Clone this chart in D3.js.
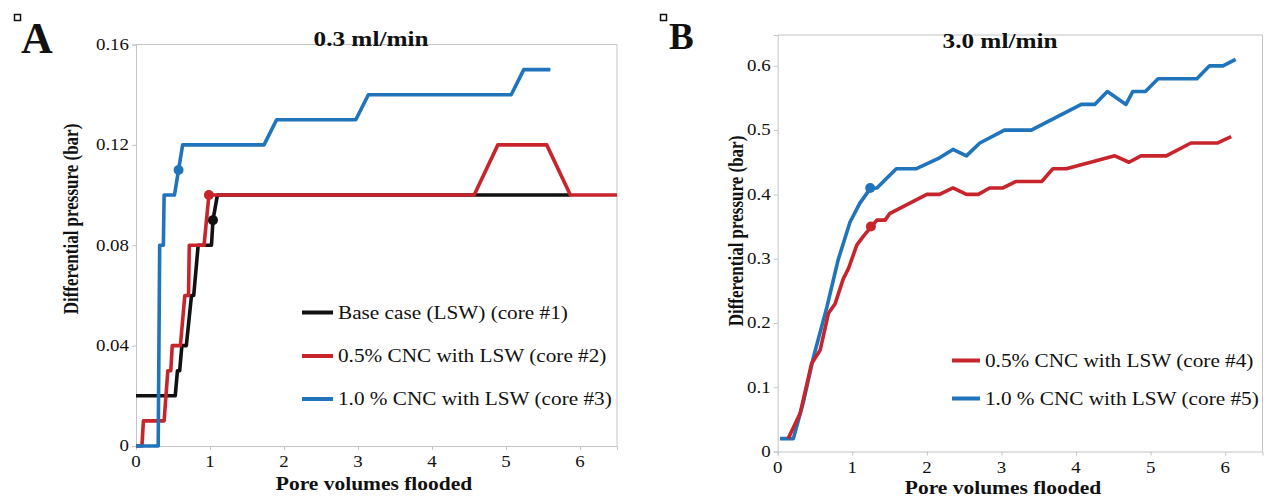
<!DOCTYPE html>
<html>
<head>
<meta charset="utf-8">
<script src="https://cdn.jsdelivr.net/npm/d3@7"></script>
<style>
  body { margin: 0; background: #fff; }
  svg text { font-family: "Liberation Serif", "Times New Roman", serif; fill: #111; }
</style>
</head>
<body>
<div id="chart"></div>
<script>
// panel A - 0.3 ml/min
const aCore1X = [0, 0.53, 0.56, 0.59, 0.62, 0.68, 0.75, 0.78, 0.84, 1.02, 1.04, 1.1, 5.87];
const aCore1Y = [0.02, 0.02, 0.03, 0.03, 0.04, 0.04, 0.06, 0.06, 0.08, 0.08, 0.09, 0.10, 0.10];
const aCore2X = [0, 0.08, 0.1, 0.38, 0.43, 0.47, 0.49, 0.6, 0.66, 0.71, 0.72, 0.92, 0.985, 4.57, 4.89, 5.55, 5.87, 6.5];
const aCore2Y = [0, 0, 0.01, 0.01, 0.03, 0.03, 0.04, 0.04, 0.06, 0.06, 0.08, 0.08, 0.10, 0.10, 0.12, 0.12, 0.10, 0.10];
const aCore3X = [0, 0.3, 0.32, 0.37, 0.38, 0.52, 0.575, 0.63, 1.73, 1.9, 2.97, 3.14, 5.07, 5.24, 5.6];
const aCore3Y = [0, 0, 0.08, 0.08, 0.10, 0.10, 0.11, 0.12, 0.12, 0.13, 0.13, 0.14, 0.14, 0.15, 0.15];
const aMarkX = [1.04, 0.985, 0.575];
const aMarkY = [0.09, 0.10, 0.11];
const aLabels = ["Base case (LSW) (core #1)", "0.5% CNC with LSW (core #2)", "1.0 % CNC with LSW (core #3)"];
const aYTicks = [0, 0.04, 0.08, 0.12, 0.16];

// panel B - 3.0 ml/min
const bCore4X = [0.14, 0.30, 0.455, 0.57, 0.68, 0.77, 0.88, 0.95, 1.06, 1.15, 1.25, 1.33, 1.44, 1.50, 2.0, 2.17, 2.35, 2.53, 2.69, 2.84, 3.02, 3.19, 3.54, 3.69, 3.87, 4.52, 4.71, 4.87, 5.21, 5.54, 5.90, 6.08];
const bCore4Y = [0.02, 0.059, 0.137, 0.158, 0.215, 0.23, 0.269, 0.285, 0.321, 0.335, 0.349, 0.36, 0.36, 0.37, 0.40, 0.40, 0.41, 0.40, 0.40, 0.41, 0.41, 0.42, 0.42, 0.44, 0.44, 0.46, 0.45, 0.46, 0.46, 0.48, 0.48, 0.49];
const bCore5X = [0.03, 0.21, 0.34, 0.48, 0.66, 0.81, 0.97, 1.10, 1.24, 1.33, 1.59, 1.86, 2.17, 2.35, 2.53, 2.71, 3.04, 3.40, 4.07, 4.25, 4.42, 4.67, 4.76, 4.93, 5.10, 5.62, 5.79, 5.97, 6.14];
const bCore5Y = [0.02, 0.02, 0.075, 0.147, 0.225, 0.298, 0.357, 0.386, 0.409, 0.41, 0.44, 0.44, 0.457, 0.47, 0.46, 0.48, 0.50, 0.50, 0.54, 0.54, 0.56, 0.54, 0.56, 0.56, 0.58, 0.58, 0.60, 0.60, 0.61];
const bMarkX = [1.25, 1.24];
const bMarkY = [0.35, 0.41];
const bLabels = ["0.5% CNC with LSW (core #4)", "1.0 % CNC with LSW (core #5)"];
const bYTicks = [0, 0.1, 0.2, 0.3, 0.4, 0.5, 0.6];

const xTicks = [0, 1, 2, 3, 4, 5, 6];

const BLACK = "#111111", RED = "#c8242c", BLUE = "#1f74bb", GRID = "#c4c4c4";
const STRETCH = 1.18; // the reference text is a bit wider than the font

const svg = d3.select("#chart").append("svg")
    .attr("width", 1270).attr("height", 498);

function label(g, x, y, str, size, opts) {
    opts = opts || {};
    let tf = `translate(${x},${y}) scale(${STRETCH},1)`;
    if (opts.rotate) tf += " rotate(-90)";
    return g.append("text")
        .attr("transform", tf)
        .attr("text-anchor", opts.anchor || "start")
        .attr("dy", opts.dy || 0)
        .style("font-size", size + "px")
        .style("font-weight", opts.bold ? "bold" : "normal")
        .text(str);
}

function zip(xs, ys) { return xs.map((x, i) => [x, ys[i]]); }

function panel(p) {
    const g = svg.append("g");
    const x = d3.scaleLinear().domain([0, 6.5]).range([p.left, p.right]);
    const y = d3.scaleLinear().domain([0, p.ymax]).range([p.bottom, p.top]);

    // frame
    g.append("path")
        .attr("d", `M${p.left},${p.top}H${p.right}V${p.bottom}`)
        .attr("fill", "none").attr("stroke", GRID).attr("stroke-width", 1);

    const xAxis = g.append("g").attr("transform", `translate(0,${p.bottom})`)
        .call(d3.axisBottom(x).tickValues(xTicks).tickSize(4).tickFormat(d3.format("d")));
    const yAxis = g.append("g").attr("transform", `translate(${p.left},0)`)
        .call(d3.axisLeft(y).tickValues(p.yTicks).tickSize(4)
            .tickFormat(d => d === 0 ? "0" : d3.format(p.fmt)(d)));
    [xAxis, yAxis].forEach(a => {
        a.select(".domain").attr("stroke", GRID);
        a.selectAll(".tick line").attr("stroke", GRID);
        a.selectAll(".tick text").remove();
    });
    xTicks.forEach(t => label(g, x(t), p.bottom + 21, t, 16, { anchor: "middle" }));
    p.yTicks.forEach(t => label(g, p.left - 7, y(t), t === 0 ? "0" : d3.format(p.fmt)(t), 16, { anchor: "end", dy: "0.33em" }));

    const line = d3.line().x(d => x(d[0])).y(d => y(d[1]));
    p.series.forEach(s => {
        g.append("path").datum(zip(s.xs, s.ys))
            .attr("d", line)
            .attr("fill", "none").attr("stroke", s.color)
            .attr("stroke-width", 3.6).attr("stroke-linejoin", "round");
    });
    g.selectAll(".mark").data(p.marks).enter().append("circle")
        .attr("cx", d => x(d.x)).attr("cy", d => y(d.y)).attr("r", 5)
        .attr("fill", d => d.color);

    // legend
    p.legend.forEach((l, i) => {
        const ly = p.legY[i];
        g.append("line").attr("x1", p.legX).attr("x2", p.legX + p.legLen)
            .attr("y1", ly).attr("y2", ly)
            .attr("stroke", l.color).attr("stroke-width", 4);
        label(g, p.legX + p.legLen + 5, ly, l.text, 18, { dy: "0.34em" });
    });

    label(g, p.titleX, p.titleY, p.title, 21.4, { anchor: "middle", bold: true });
    label(g, p.xTitleX, p.xTitleY, "Pore volumes flooded", 18.2, { anchor: "middle", bold: true });
    label(g, p.yTitleX, p.yTitleY, "Differential pressure (bar)", 17, { anchor: "middle", bold: true, rotate: true });

    g.append("rect").attr("x", p.boxX).attr("y", p.boxY).attr("width", 6).attr("height", 6)
        .attr("fill", "none").attr("stroke", "#111").attr("stroke-width", 1.5);
    g.append("text").attr("x", p.letterX).attr("y", p.letterY)
        .style("font-size", p.letterSize + "px").style("font-weight", "bold").text(p.letter);
}

panel({
    left: 136, right: 617, top: 44.5, bottom: 446, ymax: 0.16, yTicks: aYTicks, fmt: ".2f",
    series: [
        { xs: aCore1X, ys: aCore1Y, color: BLACK },
        { xs: aCore2X, ys: aCore2Y, color: RED },
        { xs: aCore3X, ys: aCore3Y, color: BLUE }
    ],
    marks: aMarkX.map((v, i) => ({ x: v, y: aMarkY[i], color: [BLACK, RED, BLUE][i] })),
    legend: aLabels.map((t, i) => ({ text: t, color: [BLACK, RED, BLUE][i] })),
    legX: 302, legLen: 31, legY: [312.5, 356, 399],
    title: "0.3 ml/min", titleX: 371, titleY: 46,
    xTitleX: 374, xTitleY: 490, yTitleX: 78, yTitleY: 219,
    letter: "A", letterX: 21, letterY: 53, letterSize: 44, boxX: 14.5, boxY: 14.5
});

panel({
    left: 777.7, right: 1262.5, top: 35, bottom: 451.5, ymax: 0.648, yTicks: bYTicks, fmt: ".1f",
    series: [
        { xs: bCore5X, ys: bCore5Y, color: BLUE },
        { xs: bCore4X, ys: bCore4Y, color: RED }
    ],
    marks: bMarkX.map((v, i) => ({ x: v, y: bMarkY[i], color: [RED, BLUE][i] })),
    legend: bLabels.map((t, i) => ({ text: t, color: [RED, BLUE][i] })),
    legX: 952, legLen: 28, legY: [360.5, 398.5],
    title: "3.0 ml/min", titleX: 1000, titleY: 48,
    xTitleX: 1003, xTitleY: 494, yTitleX: 743, yTitleY: 231,
    letter: "B", letterX: 669, letterY: 49, letterSize: 37, boxX: 660.5, boxY: 14.5
});
</script>
</body>
</html>
